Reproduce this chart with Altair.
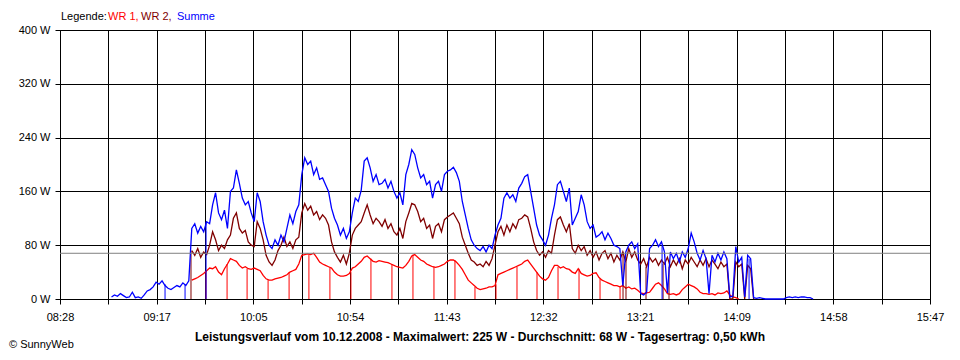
import altair as alt
import pandas as pd

# ---------------- data (minutes since midnight, watts) ----------------
T0, T1 = 508.0, 947.0            # 08:28 .. 15:47
SUMME_START = 534.0              # first Summe sample (08:54)
WR_START = 574.5                 # first WR 1 / WR 2 sample
STEP = 1.5                       # sampling step in minutes

x_labels = ["08:28", "09:17", "10:05", "10:54", "11:43",
            "12:32", "13:21", "14:09", "14:58", "15:47"]
y_ticks = [0, 80, 160, 240, 320, 400]
average = 68

summe = [3, 6, 4, 8, 5, 2, 3, 10, 2, 3,
         1, 6, 12, 14, 18, 25, 22, 27, 20, 16,
         14, 17, 20, 18, 24, 20, 27, 105, 112, 98,
         108, 100, 115, 112, 140, 158, 128, 118, 132, 105,
         160, 165, 192, 172, 150, 140, 145, 128, 115, 158,
         145, 115, 95, 80, 75, 88, 80, 95, 85, 105,
         125, 112, 130, 140, 185, 210, 200, 205, 185, 195,
         178, 180, 170, 160, 135, 120, 110, 95, 105, 90,
         100, 128, 150, 145, 162, 205, 210, 195, 175, 185,
         170, 172, 178, 165, 175, 160, 150, 158, 140, 185,
         200, 222, 215, 195, 180, 185, 170, 175, 150, 170,
         175, 160, 185, 190, 192, 196, 188, 175, 145, 125,
         105, 88, 80, 75, 72, 78, 70, 80, 75, 95,
         110, 120, 150, 158, 150, 155, 145, 165, 172, 182,
         185, 160, 135, 110, 95, 88, 80, 95, 120, 140,
         170, 175, 160, 145, 165, 110, 120, 130, 155, 140,
         115, 105, 110, 92, 95, 100, 88, 98, 90, 80,
         78, 75, 20, 70, 80, 85, 75, 82, 8, 6,
         10, 75, 80, 88, 78, 85, 70, 9, 70, 60,
         68, 55, 70, 62, 75, 98, 85, 68, 58, 72,
         60, 8, 65, 55, 68, 58, 70, 60, 3, 4,
         78, 55, 62, 3, 65, 60, 2, 1, 2, 1,
         0, 0, 0, 0, 0, 0, 0, 2, 3, 2,
         3, 2, 3, 3, 2, 2, 0]

wr2 = [72, 65, 75,
       62, 70, 66, 80, 100, 88, 72, 80, 75, 88,
       95, 120, 128, 105, 98, 102, 85, 80, 78, 115,
       105, 88, 65, 55, 50, 58, 72, 80, 92, 78,
       85, 75, 88, 92, 128, 142, 132, 138, 125, 130,
       118, 125, 120, 110, 85, 70, 62, 55, 65, 52,
       68, 95, 105, 110, 115, 128, 140, 125, 112, 120,
       115, 108, 118, 105, 112, 100, 95, 105, 90, 115,
       128, 142, 140, 130, 115, 120, 105, 110, 90, 108,
       112, 100, 118, 122, 125, 128, 120, 112, 92, 80,
       68, 58, 55, 50, 52, 48, 56, 50, 60, 80,
       100, 108, 95, 110, 100, 112, 105, 118, 120, 125,
       122, 105, 85, 72, 65, 70, 62, 72, 68, 95,
       118, 122, 110, 100, 112, 75, 68, 80, 72, 78,
       65, 72, 62, 70, 58, 68, 72, 60, 68, 55,
       65, 58, 70, 55, 75, 62, 70, 58, 52, 60,
       48, 62, 55, 60, 50, 58, 52, 62, 48, 58,
       50, 60, 45, 58, 52, 62, 55, 48, 58, 50,
       60, 48, 58, 52, 45, 55, 48, 52, 0, 0,
       55, 48, 52, 0, 50, 45, 0]

wr1 = [28, 30, 32,
       35, 38, 42, 46, 45, 48, 40, 36, 45, 52,
       60, 58, 56, 50, 46, 48, 45, 44, 46, 44,
       42, 35, 30, 28, 28, 30, 31, 32, 34, 36,
       40, 42, 44, 52, 65, 66, 67, 66, 68, 62,
       55, 52, 50, 48, 46, 40, 36, 34, 34, 35,
       38, 46, 48, 52, 56, 62, 64, 60, 56, 55,
       57, 56, 55, 54, 52, 50, 48, 47, 46, 50,
       56, 64, 66, 62, 58, 56, 52, 50, 48, 47,
       48, 50, 52, 56, 58, 58, 55, 50, 44, 36,
       28, 24, 20, 16, 14, 15, 16, 18, 18, 20,
       36, 38, 40, 42, 44, 46, 48, 50, 52, 56,
       58, 52, 46, 40, 34, 30, 28, 32, 42, 50,
       50, 46, 48, 45, 44, 40, 38, 45, 38, 36,
       34, 35, 38, 39, 32, 28, 26, 24, 22, 20,
       20, 18, 20, 16, 18, 15, 16, 13, 9, 8,
       9, 10, 16, 22, 24, 20, 15, 8, 7, 8,
       6, 8, 14, 18, 22, 20, 18, 15, 10, 8,
       8, 7, 8, 6, 9, 8, 9, 12, 6, 3,
       2, 0]

# short drop-outs to 0 W (time, level before the drop)
wr1_drop_t = [581.7, 592.3, 602.4, 613.0, 623.6, 633.6, 644.2, 654.8, 664.9, 675.5, 686.1,
              696.7, 707.3, 717.4, 728.0, 738.6, 748.7, 759.3, 769.9, 780.5, 790.6]
wr1_drop_w = [42, 52, 45, 28, 40, 66, 46, 40, 60, 52, 66,
              48, 58, 18, 22, 48, 40, 48, 45, 30, 18]
wr2_drop_t = [574.1, 792.1, 793.6, 803.7, 812.3, 815.3]
wr2_drop_w = [72, 70, 55, 48, 52, 48]
summe_drop_t = [561.0, 571.1, 581.7, 811.8, 855.7]
summe_drop_w = [22, 22, 115, 80, 60]

# ---------------- tables ----------------
def series(start, values):
    return pd.DataFrame({"t": [start + STEP * i for i in range(len(values))], "w": values})

def drops(ts, ws):
    return pd.DataFrame({"t": ts, "w": ws, "z": [0] * len(ts)})

df_summe = series(SUMME_START, summe)
df_wr2 = series(WR_START, wr2)
df_wr1 = series(WR_START, wr1)

DT = (T1 - T0) / 18
tick_vals = [T0 + DT * i for i in range(19)]
labels_js = "[" + ",".join("'%s'" % s for s in x_labels) + "]"
idx = "round((datum.value - %f) / %f)" % (T0, DT)
x_expr = "%s %% 2 == 0 ? %s[%s / 2] : ''" % (idx, labels_js, idx)

FONT = "Liberation Sans"
xs = alt.Scale(domain=[T0, T1], nice=False, zero=False)
ys = alt.Scale(domain=[0, 400], nice=False)
X = alt.X("t:Q", scale=xs, axis=alt.Axis(values=tick_vals, labelExpr=x_expr, title=None,
                                         tickSize=5, labelPadding=7, labelFlush=False,
                                         labelOverlap=False))
Y = alt.Y("w:Q", scale=ys, axis=alt.Axis(values=y_ticks, labelExpr="datum.value + ' W'",
                                         title=None, tickSize=5, labelPadding=5))

RED, MAROON, BLUE = "#FF0000", "#800000", "#0000FF"
SW = 1.3

def line(df, color):
    return alt.Chart(df).mark_line(color=color, strokeWidth=SW).encode(x=X, y=Y)

def drop_rules(df, color):
    return alt.Chart(df).mark_rule(color=color, strokeWidth=1).encode(x=X, y=Y, y2="z:Q")

avg_rule = alt.Chart(pd.DataFrame({"w": [average]})).mark_rule(
    color="#808080", strokeWidth=1).encode(y=Y)

one = pd.DataFrame({"a": [0]})

def txt(s, x, y, color="black", bold=False, align="left", size=11):
    return alt.Chart(one).mark_text(
        font=FONT, fontSize=size, fontWeight="bold" if bold else "normal",
        align=align, baseline="middle", color=color
    ).encode(x=alt.value(x), y=alt.value(y), text=alt.value(s))

title = ("Leistungsverlauf vom 10.12.2008 - Maximalwert: 225 W - "
         "Durchschnitt: 68 W - Tagesertrag: 0,50 kWh")

chart = alt.layer(
    line(df_wr1, RED), drop_rules(drops(wr1_drop_t, wr1_drop_w), RED),
    line(df_wr2, MAROON), drop_rules(drops(wr2_drop_t, wr2_drop_w), MAROON),
    line(df_summe, BLUE), drop_rules(drops(summe_drop_t, summe_drop_w), BLUE),
    avg_rule,
    txt("Legende:", 1, -13),
    txt("WR 1,", 48, -13, RED),
    txt("WR 2,", 81, -13, MAROON),
    txt("Summe", 117, -13, BLUE),
    txt(title, 420, 307, bold=True, align="center", size=12),
    txt("© SunnyWeb", -51, 315),
).properties(
    width=870, height=269,
    padding={"left": 52, "top": 22, "right": 20, "bottom": 60},
    autosize=alt.AutoSizeParams(type="none"),
    background="white",
).configure_view(
    stroke="black", strokeWidth=1
).configure_axis(
    grid=True, gridColor="black", gridOpacity=1, gridWidth=1,
    domainColor="black", domainWidth=1, tickColor="black", tickWidth=1,
    labelColor="black", labelFont=FONT, labelFontSize=11,
)

chart.save("out.html", embed_options={"renderer": "svg", "actions": False})
